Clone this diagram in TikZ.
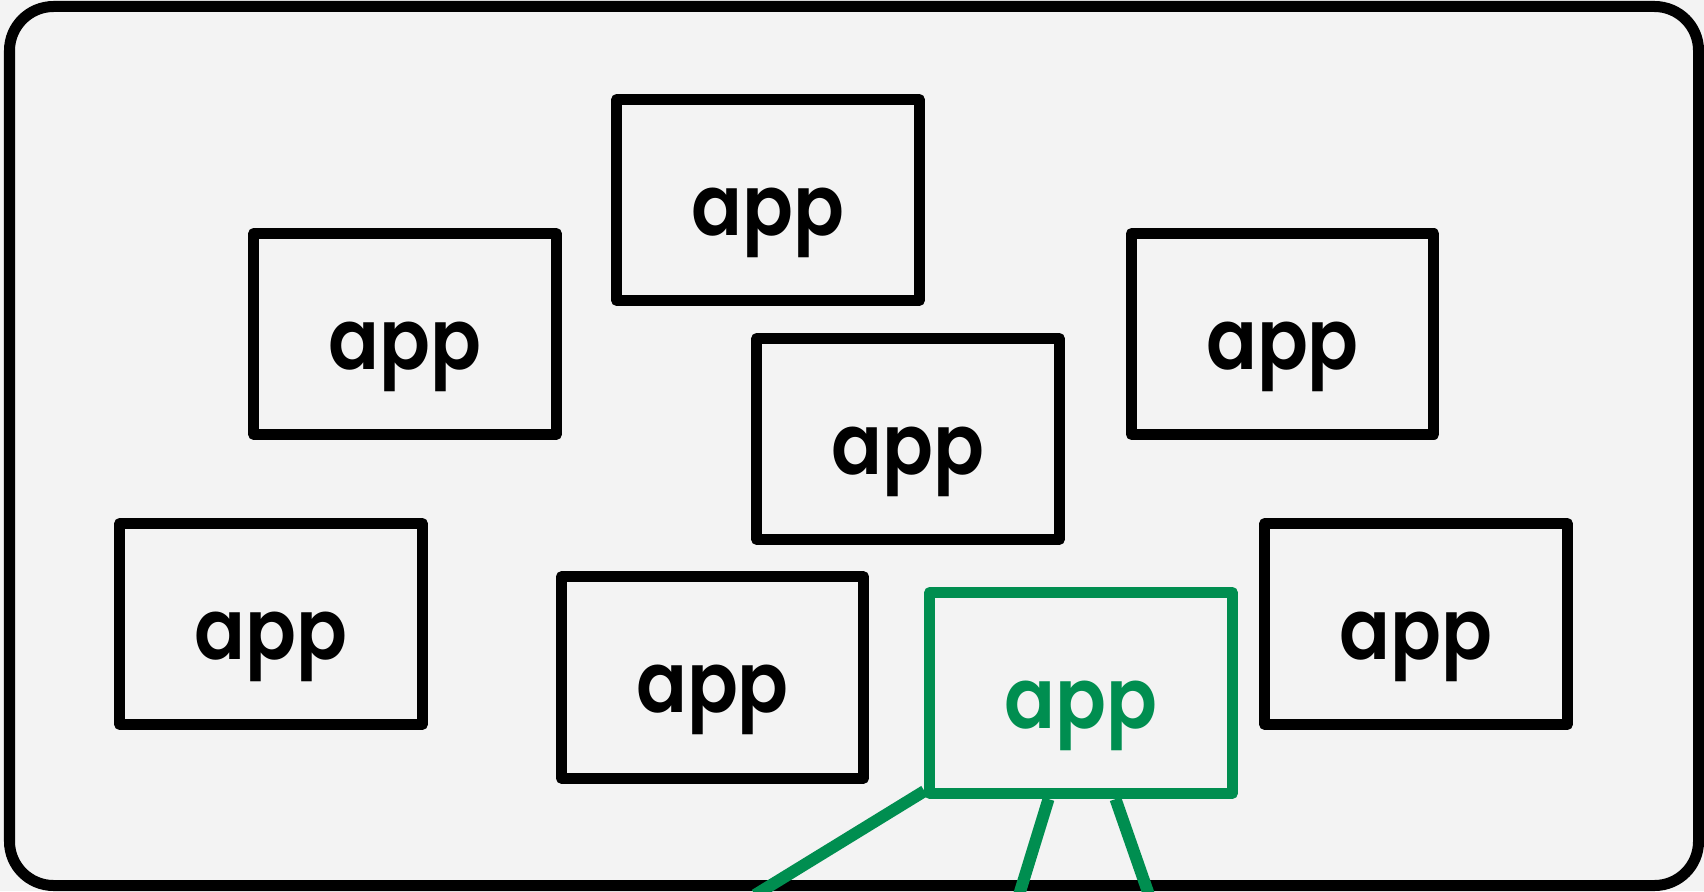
\documentclass[tikz,border=0pt]{standalone}
\usepackage{fontspec}
\setmainfont{Poppins}[BoldFont={Poppins SemiBold}]
\usepackage{tikz}

\definecolor{bggray}{RGB}{243,243,243}
\definecolor{appgreen}{RGB}{0,142,80}
\newcommand{\appword}{\scalebox{0.89}[1]{app}}

\begin{document}
\begin{tikzpicture}[x=0.01cm,y=-0.01cm,
  appbox/.style={shape=rectangle,draw,line width=0.11cm,line join=round,minimum width=3.02cm,minimum height=2.01cm,text height=0.7cm,text depth=0pt,font=\fontsize{24}{28}\selectfont\bfseries},
  greenbox/.style={appbox,draw=appgreen,text=appgreen},
  greenline/.style={draw=appgreen,line width=0.12cm}]
\fill [bggray] (0,0) rectangle (1704,891);
\useasboundingbox (0,0) rectangle (1704,891);
\draw [line width=0.11cm,rounded corners=0.44cm] (9.5,6.5) rectangle (1698.5,885.5);

\path (768,200) node (apptop) [appbox] {\appword};
\path (405,334) node (appleft) [appbox] {\appword};
\path (1282.5,334) node (appright) [appbox] {\appword};
\path (908,439) node (appmid) [appbox] {\appword};
\path (271,624) node (applowleft) [appbox] {\appword};
\path (712.5,677.5) node (applowmid) [appbox] {\appword};
\path (1081,693) node (appsel) [greenbox] {\appword};
\path (1416,624) node (applowright) [appbox] {\appword};

\coordinate (footdiag) at (755,895);
\coordinate (footleft) at (1019,895);
\coordinate (footright) at (1149,895);

\draw [greenline] ([yshift=0.08cm]appsel.south west) to (footdiag);
\draw [greenline] ([xshift=-0.325cm]appsel.south) to (footleft);
\draw [greenline] ([xshift=0.345cm]appsel.south) to (footright);
\end{tikzpicture}
\end{document}
